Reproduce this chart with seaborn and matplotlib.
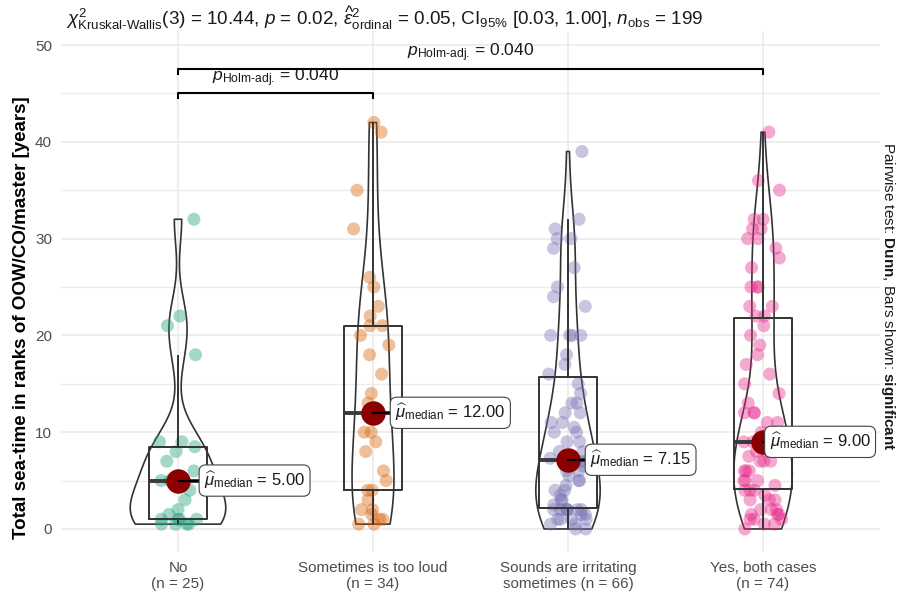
import numpy as np
import pandas as pd
import matplotlib
matplotlib.use("Agg")
import matplotlib.pyplot as plt
import seaborn as sns

# ---------------- data ----------------
categories = ["No", "Sometimes is too loud", "Sounds are irritating sometimes", "Yes, both cases"]
tick_labels = ["No\n(n = 25)", "Sometimes is too loud\n(n = 34)",
               "Sounds are irritating\nsometimes (n = 66)", "Yes, both cases\n(n = 74)"]

no_vals = [0.5, 0.5, 0.5, 0.5, 1, 1, 1, 1, 1.5, 2, 3, 4, 5, 5, 5, 6, 7, 8, 8.5, 9, 9,
           18, 21, 22, 32]
loud_vals = [0.5, 0.5, 1, 1, 1.5, 2, 2, 3, 4, 4, 5, 6, 8, 9, 10, 10, 12, 12, 13, 14,
             16, 18, 19, 20, 21, 21, 22, 23, 25, 26, 31, 35, 41, 42]
irrit_vals = [0, 0, 0.5, 0.5, 1, 1, 1, 1, 1.5, 1.5, 2, 2, 2, 2, 2, 2, 2,
              2.5, 3, 3, 3.5, 4, 4, 4.5, 5, 5, 5.5, 6, 6, 6.5, 7, 7,
              7, 7.3,
              8, 8, 9, 9, 10, 10, 10.5, 11, 11, 12, 12, 13, 13, 14, 15,
              16,
              17, 18, 20, 20, 20, 20, 23, 24, 25, 27, 29, 30, 30, 31, 32, 39]
both_vals = [0, 0.5, 0.5, 1, 1, 1, 1.5, 1.5, 1.5, 2, 2, 2, 3, 3, 3, 3.5, 4, 4, 4,
             4.5, 5, 5, 5, 6, 6, 6, 7, 7, 7, 7.5, 8, 8, 8, 8.5, 9, 9,
             9, 9,
             10, 10, 10, 11, 11, 12, 12, 12, 13, 14, 15, 16, 17, 18, 19, 20, 21,
             22,
             22, 23, 23, 25, 25, 25, 27, 28, 29, 30, 30, 31, 31, 32, 32, 35, 36, 41]

palette = ["#1B9E77", "#D95F02", "#7570B3", "#E7298A"]

pair_groups = [(0, 1), (0, 3)]
pair_levels = [45.0, 47.5]
pair_pvals = ["0.040", "0.040"]

# styling (positions / widths)
label_offsets = [0.12, 0.10, 0.10, 0.02]
violin_widths = [0.49, 0.215, 0.33, 0.30]

subtitle = (r"$\chi^2_{\text{Kruskal-Wallis}}$(3) = 10.44, $\mathit{p}$ = 0.02, "
            r"$\widehat{\varepsilon}^2_{\mathrm{ordinal}}$ = 0.05, CI$_{95\%}$ [0.03, 1.00], "
            r"$\mathit{n}_{\mathrm{obs}}$ = 199")
ylabel = "Total sea-time in ranks of OOW/CO/master [years]"
caption = r"Pairwise test: $\mathbf{Dunn}$, Bars shown: $\mathbf{significant}$"

# ---------------- frame ----------------
values = [no_vals, loud_vals, irrit_vals, both_vals]
df = pd.DataFrame({
    "group": np.concatenate([[c] * len(v) for c, v in zip(categories, values)]),
    "value": np.concatenate([np.asarray(v, float) for v in values]),
})
df["group"] = pd.Categorical(df["group"], categories=categories, ordered=True)

sns.set_theme(style="white")
plt.rcParams["font.family"] = ["Liberation Sans", "DejaVu Sans"]
plt.rcParams["mathtext.fontset"] = "custom"
plt.rcParams["mathtext.rm"] = "Liberation Sans"
plt.rcParams["mathtext.it"] = "Liberation Sans:italic"
plt.rcParams["mathtext.bf"] = "Liberation Sans:bold"
plt.rcParams["mathtext.sf"] = "Liberation Sans"

W, H = 897, 595
fig = plt.figure(figsize=(W / 100, H / 100), dpi=100)
L, R, T, B = 61, 880, 31, 552
ax = fig.add_axes([L / W, 1 - B / H, (R - L) / W, (B - T) / H])

np.random.seed(7)
sns.stripplot(data=df, x="group", y="value", hue="group", order=categories,
              palette=palette, jitter=0.1, size=9.4, alpha=0.4, linewidth=0,
              legend=False, ax=ax, zorder=2)
sns.boxplot(data=df, x="group", y="value", order=categories, width=0.3,
            fill=False, color="#333333", showfliers=False, showcaps=False,
            linewidth=1.4, medianprops=dict(linewidth=2.8, color="#3a3a3a"), ax=ax)


def nrd0(v):
    v = np.asarray(v, float)
    q75, q25 = np.percentile(v, [75, 25])
    sd = v.std(ddof=1)
    return 0.9 * min(sd, (q75 - q25) / 1.34) * len(v) ** (-0.2), sd


for cat, v, w in zip(categories, values, violin_widths):
    bw, sd = nrd0(v)
    sns.violinplot(data=df[df["group"] == cat], x="group", y="value", order=categories,
                   width=w, density_norm="width", cut=0, inner=None, fill=False,
                   color="#333333", linewidth=1.2, bw_method=bw / sd, ax=ax)

medians = df.groupby("group", observed=True)["value"].median().reindex(categories).values
ax.scatter(np.arange(len(categories)), medians, s=310, color="#8B0000", zorder=6, linewidths=0)
for i, (m, off) in enumerate(zip(medians, label_offsets)):
    ax.plot([i, i + off], [m, m], color="black", lw=1.5, zorder=6.5)
    ax.text(i + off + 0.014, m, r"$\widehat{\mu}_{\mathrm{median}}$" + f" = {m:.2f}",
            ha="left", va="center", fontsize=12, color="#1a1a1a", zorder=7,
            bbox=dict(boxstyle="round,pad=0.3,rounding_size=0.4", fc="white",
                      ec="#444444", lw=0.8))

# pairwise brackets
for (a, b), lvl, p in zip(pair_groups, pair_levels, pair_pvals):
    ax.plot([a, a, b, b], [lvl - 0.6, lvl, lvl, lvl - 0.6], color="black", lw=1.5,
            zorder=5, solid_capstyle="butt")
    ax.text((a + b) / 2, lvl + 0.5, r"$\mathit{p}_{\text{Holm-adj.}}$ = " + p,
            ha="center", va="bottom", fontsize=12.5, color="#1a1a1a")

# axes styling
ax.set_xlim(-0.6, 3.6)
ax.set_ylim(-2.38, 51.45)
ax.set_yticks([0, 10, 20, 30, 40, 50])
ax.set_yticks([5, 15, 25, 35, 45], minor=True)
ax.set_xticks(range(len(categories)))
ax.set_xticklabels(tick_labels)
ax.grid(True, which="major", color="#EBEBEB", lw=1.2)
ax.grid(True, which="minor", axis="y", color="#EBEBEB", lw=1.0)
ax.set_axisbelow(True)
for s in ax.spines.values():
    s.set_visible(False)
ax.tick_params(axis="both", which="major", length=3.5, width=1.1, color="#333333",
               labelcolor="#4D4D4D", labelsize=11, pad=3)
ax.tick_params(axis="y", which="minor", length=0)
ax.set_xlabel("")
ax.set_ylabel(ylabel, fontsize=13.5, fontweight="bold", color="black")
ax.yaxis.set_label_coords(-(L - 30) / (R - L), (B - 318) / (B - T))

fig.text(66 / W, 1 - 18 / H, subtitle, ha="left", va="center", fontsize=13.6, color="#1a1a1a")
fig.text(888 / W, 1 - 296 / H, caption, ha="center", va="center", rotation=270,
         fontsize=11, color="#1a1a1a")

fig.savefig("out.png", dpi=100, facecolor="white")
